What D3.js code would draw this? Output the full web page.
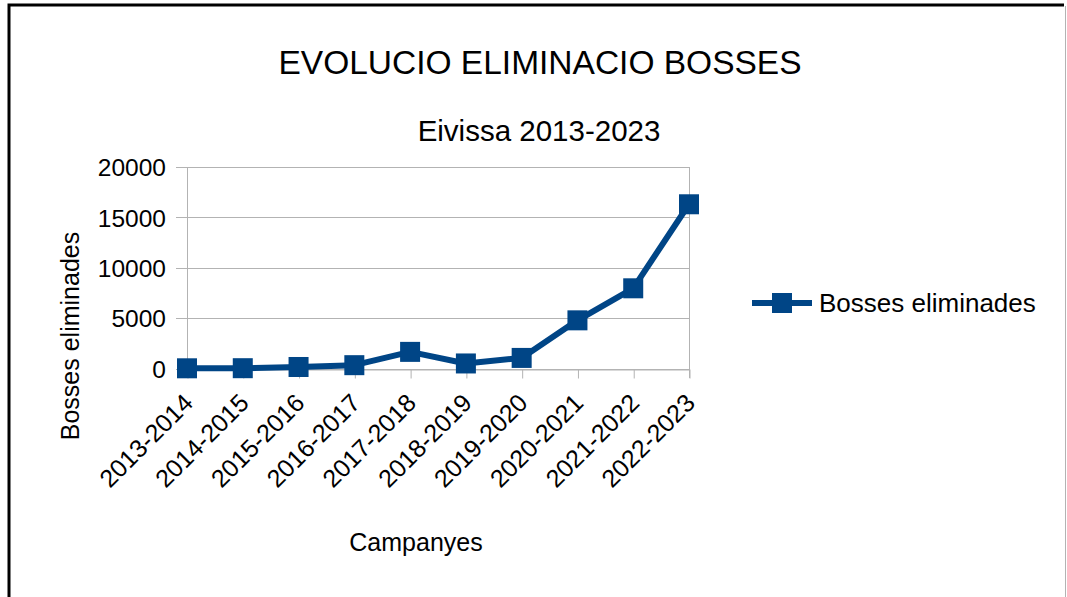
<!DOCTYPE html>
<html lang="en">
<head>
    <meta charset="UTF-8">
    <title>evolucio-bosses</title>
    <script src="https://cdn.jsdelivr.net/npm/d3@7/dist/d3.min.js"></script>
    <style>
        body { margin: 0; background: #fff; }
        text { font-family: "Liberation Sans", Arial, sans-serif; fill: #000; }
    </style>
</head>
<body>
    <svg class="chart"></svg>
</body>
<script>
    // dades
    var campanyes = ['2013-2014', '2014-2015', '2015-2016', '2016-2017', '2017-2018',
        '2018-2019', '2019-2020', '2020-2021', '2021-2022', '2022-2023'];
    var bosses = [20, 30, 150, 330, 1650, 500, 1050, 4780, 7960, 16300];
    var yTicks = [0, 5000, 10000, 15000, 20000];
    var serieNom = 'Bosses eliminades';

    var width = 1067, height = 597;
    var blau = '#004586';
    var gris = '#b3b3b3';

    var svg = d3.select('.chart')
        .attr('width', width)
        .attr('height', height);

    // marc
    svg.append('path')
        .attr('d', 'M9,600 V5 H1064')
        .attr('fill', 'none')
        .attr('stroke', '#000')
        .attr('stroke-width', 3);
    svg.append('line')
        .attr('x1', 1065.5).attr('x2', 1065.5)
        .attr('y1', 6).attr('y2', 597)
        .attr('stroke', gris);

    // escales
    var x = d3.scalePoint()
        .domain(campanyes)
        .range([187, 689]);
    var y = d3.scaleLinear()
        .domain([0, 20000])
        .range([368.5, 167]);

    // graella
    svg.append('g')
        .selectAll('line')
        .data(yTicks)
        .enter()
        .append('line')
        .attr('x1', 176)
        .attr('x2', 689)
        .attr('y1', function (d) { return Math.round(y(d)) + 0.5; })
        .attr('y2', function (d) { return Math.round(y(d)) + 0.5; })
        .attr('stroke', gris);

    // eixos verticals
    [187, 689].forEach(function (xx) {
        svg.append('line')
            .attr('x1', xx + 0.5).attr('x2', xx + 0.5)
            .attr('y1', 167).attr('y2', 378)
            .attr('stroke', gris);
    });

    // eix x
    var xAxis = svg.append('g')
        .attr('transform', 'translate(0,' + (Math.round(y(0)) + 0.5) + ')')
        .call(d3.axisBottom(x).tickSize(9).tickSizeOuter(0).tickPadding(6));
    xAxis.select('.domain').attr('stroke', gris);
    xAxis.selectAll('.tick line').attr('stroke', gris).attr('transform', 'translate(0.5,0)');
    xAxis.selectAll('.tick text')
        .attr('font-size', 25)
        .attr('font-family', '"Liberation Sans", Arial, sans-serif')
        .attr('fill', '#000')
        .attr('text-anchor', 'end')
        .attr('dy', 0)
        .attr('transform', 'translate(7,35) rotate(-45)')
        .attr('y', 0)
        .attr('x', 0);

    // eix y
    var yAxis = svg.append('g')
        .attr('transform', 'translate(176,0)')
        .call(d3.axisLeft(y).tickValues(yTicks).tickSize(0).tickPadding(10).tickFormat(d3.format('d')));
    yAxis.select('.domain').remove();
    yAxis.selectAll('.tick text')
        .attr('font-size', 24.5)
        .attr('font-family', '"Liberation Sans", Arial, sans-serif')
        .attr('fill', '#000')
        .attr('dy', '0.36em');

    // línia
    var line = d3.line()
        .x(function (d, i) { return x(campanyes[i]); })
        .y(function (d) { return y(d); });

    svg.append('path')
        .datum(bosses)
        .attr('d', line)
        .attr('fill', 'none')
        .attr('stroke', blau)
        .attr('stroke-width', 6)
        .attr('stroke-linejoin', 'round');

    svg.append('g')
        .selectAll('rect')
        .data(bosses)
        .enter()
        .append('rect')
        .attr('x', function (d, i) { return x(campanyes[i]) - 10; })
        .attr('y', function (d) { return y(d) - 10; })
        .attr('width', 20)
        .attr('height', 20)
        .attr('fill', blau);

    // títols
    svg.append('text')
        .attr('x', 540)
        .attr('y', 74)
        .attr('text-anchor', 'middle')
        .attr('font-size', 33.5)
        .text('EVOLUCIO ELIMINACIO BOSSES');

    svg.append('text')
        .attr('x', 539)
        .attr('y', 141)
        .attr('text-anchor', 'middle')
        .attr('font-size', 29.5)
        .text('Eivissa 2013-2023');

    svg.append('text')
        .attr('transform', 'translate(79,336) rotate(-90)')
        .attr('text-anchor', 'middle')
        .attr('font-size', 25)
        .text('Bosses eliminades');

    svg.append('text')
        .attr('x', 416)
        .attr('y', 551)
        .attr('text-anchor', 'middle')
        .attr('font-size', 25)
        .text('Campanyes');

    // llegenda
    var leg = svg.append('g').attr('transform', 'translate(752,303)');
    leg.append('line')
        .attr('x1', 0).attr('x2', 60)
        .attr('stroke', blau)
        .attr('stroke-width', 6);
    leg.append('rect')
        .attr('x', 20).attr('y', -10)
        .attr('width', 20).attr('height', 20)
        .attr('fill', blau);
    leg.append('text')
        .attr('x', 67)
        .attr('y', 9)
        .attr('font-size', 26)
        .text(serieNom);
</script>
</html>
